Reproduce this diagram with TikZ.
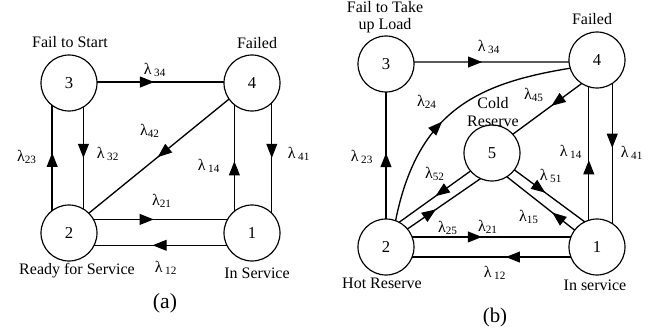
\documentclass[tikz,border=0pt]{standalone}
\usepackage{fontspec}
\setmainfont{Liberation Serif}
\usetikzlibrary{arrows.meta,decorations.markings}

\newcommand{\lam}[1]{λ\,\textsubscript{#1}}

\tikzset{
  state/.style={draw, circle, minimum size=33.6pt, inner sep=0pt, outer sep=0pt, line width=0.7pt},
  trans/.style={line width=0.8pt, postaction={decorate},
    decoration={markings, mark=at position #1 with {\arrow{Triangle[length=8.5pt,width=6.5pt]}}}},
  trans/.default=0.5,
  txt/.style={font=\fontsize{9.6}{10.5}\selectfont, inner sep=0pt, align=center},
}

\begin{document}
\begin{tikzpicture}[x=0.6pt, y=-0.6pt]
\useasboundingbox (0,0) rectangle (664,332);

% (a) four states
\node[state] (a3) at (69, 83) {3};
\node[state] (a4) at (252, 83) {4};
\node[state] (a2) at (69, 233) {2};
\node[state] (a1) at (252, 233) {1};

\node[txt] (a3t) at (70, 42) {Fail to Start};
\node[txt] (a4t) at (257, 43) {Failed};
\node[txt] (a2t) at (77, 271) {Ready for Service};
\node[txt] (a1t) at (257, 273) {In Service};
\node[font=\fontsize{13}{15}\selectfont] (acap) at (165, 303) {(a)};

\draw[trans=0.45] (a3.2) -- (a4.178);
\draw[trans=0.55] (a2.127) -- (a3.233);
\draw[trans=0.5] (a3.-59) -- (a2.59);
\draw[trans=0.51] (a4.215) -- (a2.45);
\draw[trans=0.47] (a1.129) -- (a4.231);
\draw[trans=0.5] (a4.-45) -- (a1.45);
\draw[trans=0.45] (a2.29) -- (a1.151);
\draw[trans=0.56] (a1.206) -- (a2.-26);

\node[txt] (l34a) at (155, 70) {\lam{34}};
\node[txt] (l23a) at (27, 157) {λ\textsubscript{23}};
\node[txt] (l32a) at (108, 154) {\lam{32}};
\node[txt] (l42a) at (150, 131) {λ\textsubscript{42}};
\node[txt] (l14a) at (209, 166) {\lam{14}};
\node[txt] (l41a) at (299, 154) {\lam{41}};
\node[txt] (l21a) at (162, 201) {λ\textsubscript{21}};
\node[txt] (l12a) at (166, 268) {\lam{12}};

% (b) five states
\node[state] (b3) at (386, 64) {3};
\node[state] (b4) at (597, 60) {4};
\node[state] (b5) at (492, 153) {5};
\node[state] (b2) at (386, 247) {2};
\node[state] (b1) at (597, 247) {1};

\node[txt] (b3t) at (385, 17) {Fail to Take\\up Load};
\node[txt] (b4t) at (592, 19) {Failed};
\node[txt] (b5t) at (493, 112) {Cold\\Reserve};
\node[txt] (b2t) at (382, 283) {Hot Reserve};
\node[txt] (b1t) at (595, 285) {In service};
\node[font=\fontsize{12.5}{15}\selectfont] (bcap) at (495, 317) {(b)};

\draw[trans=0.44] (b3.4) -- (b4.184);
\draw[trans=0.52] (b2.north) -- (b3.south);
\draw[trans=0.44] (b2.70) .. controls (418,109) and (480,83) .. (b4.197);
\draw[trans=0.44] (b4.237) -- (b5.42);
\draw[trans=0.45] (b1.107) -- (b4.253);
\draw[trans=0.46] (b4.-57) -- (b1.57);
\draw[trans=0.49] (b5.220) -- (b2.62);
\draw[trans=0.39] (b2.40) -- (b5.246);
\draw[trans=0.44] (b5.-37) -- (b1.116);
\draw[trans=0.33] (b1.143) -- (b5.-58);
\draw[trans=0.44] (b2.21) -- (b1.159);
\draw[trans=0.41] (b1.201) -- (b2.-21);

\node[txt] (l34b) at (489, 47) {\lam{34}};
\node[txt] (l23b) at (362, 157) {\lam{23}};
\node[txt] (l24b) at (427, 102) {λ\textsubscript{24}};
\node[txt] (l45b) at (534, 95) {λ\textsubscript{45}};
\node[txt] (l14b) at (571, 152) {\lam{14}};
\node[txt] (l41b) at (632, 153) {\lam{41}};
\node[txt] (l52b) at (435, 174) {λ\textsubscript{52}};
\node[txt] (l25b) at (448, 228) {λ\textsubscript{25}};
\node[txt] (l21b) at (488, 227) {λ\textsubscript{21}};
\node[txt] (l51b) at (551, 176) {\lam{51}};
\node[txt] (l15b) at (529, 217) {λ\textsubscript{15}};
\node[txt] (l12b) at (495, 273) {\lam{12}};
\end{tikzpicture}
\end{document}
